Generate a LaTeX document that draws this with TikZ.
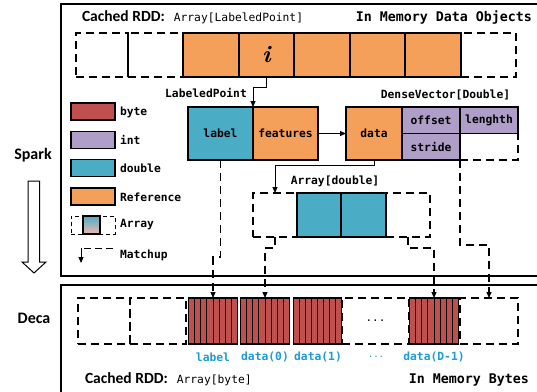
\documentclass[tikz,border=0pt]{standalone}
\usepackage{fontspec}
\setmonofont{DejaVu Sans Mono}
\newfontfamily\carl{Carlito}
\usetikzlibrary{arrows.meta,calc}
\definecolor{cOrange}{HTML}{F5A05A}
\definecolor{cTeal}{HTML}{4BACC6}
\definecolor{cRed}{HTML}{C0504D}
\definecolor{cPurple}{HTML}{AE9EC8}
\definecolor{cPink}{HTML}{F4B8B0}
\definecolor{cBlue}{HTML}{1F9BD5}
\begin{document}
\begin{tikzpicture}[x=1pt,y=-1pt,
  every node/.style={inner sep=0pt,outer sep=0pt},
  frame/.style={draw,line width=1.2pt},
  cell/.style={draw,line width=1.1pt},
  dbox/.style={draw,line width=1.1pt,dash pattern=on 8pt off 5pt},
  conn/.style={line width=1pt,-{Triangle[length=6pt,width=5pt]}},
  dconn/.style={line width=1.1pt,dash pattern=on 8pt off 5pt,-{Triangle[length=6pt,width=5pt]}},
  mono/.style={font=\ttfamily\bfseries\fontsize{11.3}{13}\selectfont},
  monot/.style={font=\ttfamily\bfseries\fontsize{13.3}{15}\selectfont},
  sans/.style={font=\carl\bfseries\fontsize{16}{18}\selectfont}]
\useasboundingbox (0,0) rectangle (537,391);
\clip (0,0) rectangle (537,391);
\fill[white] (0,0) rectangle (537,391);
% frames
\draw[frame] (61,4) rectangle (560,276);
\draw[frame] (61,285) rectangle (560,420);
% titles
\node[anchor=base west] (t1) at (82,21) {{\carl\bfseries\fontsize{15.5}{15}\selectfont Cached RDD:}\hspace{9pt}{\ttfamily\fontsize{11.3}{12}\selectfont Array[LabeledPoint]}};
\node[anchor=base east,monot] (t2) at (532,21) {In Memory Data Objects};
\node[anchor=base west] (t3) at (85,383) {{\carl\bfseries\fontsize{15.5}{15}\selectfont Cached RDD:}\hspace{9pt}{\ttfamily\fontsize{11.3}{12}\selectfont Array[byte]}};
\node[anchor=base east,monot] (t4) at (529,383) {In Memory Bytes};
% Spark / Deca
\node[sans] (spark) at (33,155) {Spark};
\node[sans] (deca) at (34,318) {Deca};
\draw[line width=1pt,fill=white] (28,181) -- (39.5,181) -- (39.5,262) -- (46,262) -- (34,273) -- (22,262) -- (28,262) -- cycle;
% top array
\node[dbox,minimum width=52pt,minimum height=44pt] (td1) at (102,55) {};
\node[dbox,minimum width=55pt,minimum height=44pt] (td2) at (155.5,55) {};
\node[dbox,minimum width=55pt,minimum height=44pt] (td3) at (488.5,55) {};
\node[cell,fill=cOrange,minimum width=56pt,minimum height=44pt] (to1) at (211,55) {};
\node[cell,fill=cOrange,minimum width=55pt,minimum height=44pt,font=\fontsize{24}{24}\selectfont\bfseries\itshape] (to2) at (266.5,55) {i};
\node[cell,fill=cOrange,minimum width=56pt,minimum height=44pt] (to3) at (322,55) {};
\node[cell,fill=cOrange,minimum width=55pt,minimum height=44pt] (to4) at (377.5,55) {};
\node[cell,fill=cOrange,minimum width=56pt,minimum height=44pt] (to5) at (433,55) {};
% LabeledPoint
\node[mono] (lpt) at (206,93) {LabeledPoint};
\node[cell,fill=cTeal,minimum width=65pt,minimum height=53pt,mono] (lab) at (220.5,133.5) {label};
\node[cell,fill=cOrange,minimum width=65pt,minimum height=53pt,mono] (feat) at (285.5,133.5) {features};
\draw[conn] (to2.south) -- ++(0,10) -| (lab.north east);
% DenseVector
\node[mono] (dvt) at (445.5,95) {DenseVector[Double]};
\node[dbox,minimum width=58pt,minimum height=26.5pt] (vd) at (489,146.75) {};
\node[cell,fill=cOrange,minimum width=56pt,minimum height=53pt,mono] (dat) at (374,133.5) {data};
\node[cell,fill=cPurple,minimum width=58pt,minimum height=26.5pt,mono] (off) at (431,120.25) {offset};
\node[cell,fill=cPurple,minimum width=58pt,minimum height=26.5pt,mono] (str) at (431,146.75) {stride};
\node[cell,fill=cPurple,minimum width=58pt,minimum height=26.5pt,mono] (len) at (489,120.25) {lenghth};
\draw[conn] (feat.east) -- (dat.west);
% Array[double]
\node[mono] (adt) at (335,181) {Array[double]};
\node[dbox,minimum width=44pt,minimum height=44pt] (ad1) at (275,215) {};
\node[dbox,minimum width=44pt,minimum height=44pt] (ad2) at (408,215) {};
\node[cell,fill=cTeal,minimum width=44pt,minimum height=44pt] (at1) at (319,215) {};
\node[cell,fill=cTeal,minimum width=45pt,minimum height=44pt] (at2) at (363.5,215) {};
\draw[conn] (dat.south) -- ++(0,5) -| (ad1.north);
% bottom array
\node[dbox,minimum width=52pt,minimum height=46pt] (bx1) at (104,321) {};
\node[dbox,minimum width=56pt,minimum height=46pt] (bx2) at (158,321) {};
\node[dbox,minimum width=67pt,minimum height=46pt,font=\ttfamily\fontsize{11}{12}\selectfont] (bdots) at (375.5,321) {...};
\node[dbox,minimum width=58pt,minimum height=46pt] (bxE) at (489,321) {};
\node[cell,fill=cRed,minimum width=48.5pt,minimum height=46pt] (bL) at (213,321) {};
\node[cell,fill=cRed,minimum width=48.5pt,minimum height=46pt] (bD0) at (265,321) {};
\node[cell,fill=cRed,minimum width=48.5pt,minimum height=46pt] (bD1) at (317.5,321) {};
\node[cell,fill=cRed,minimum width=48.5pt,minimum height=46pt] (bDD) at (434,321) {};
\foreach \c in {bL,bD0,bD1,bDD}{
  \foreach \k in {1,...,7}{
    \draw[line width=0.9pt] ($(\c.north west)!\k/8!(\c.north east)$) -- ($(\c.south west)!\k/8!(\c.south east)$);
  }
}
\node[mono,text=cBlue] (lL) at (213,357) {label};
\node[mono,text=cBlue] (lD0) at (265,357) {data(0)};
\node[mono,text=cBlue] (lD1) at (318,357) {data(1)};
\node[mono,text=cBlue,font=\ttfamily\fontsize{9}{10}\selectfont] (lDots) at (376,357) {...};
\node[mono,text=cBlue] (lDD) at (434,357) {data(D-1)};
% matchups
\draw[dconn] (lab.south) -- ++(0,97) -| (bL.north);
\draw[dconn] (ad1.south) -- ++(0,11) -| (bD0.north);
\draw[dconn] (ad2.south) -- ++(0,11) -| (bDD.north);
\draw[dconn] (str.south east) -- ++(0,85) -| (bxE.north);
% legend
\node[cell,fill=cRed,minimum width=44pt,minimum height=17pt] (lgB) at (93,111.5) {};
\node[cell,fill=cPurple,minimum width=44pt,minimum height=17pt] (lgI) at (93,140) {};
\node[cell,fill=cTeal,minimum width=44pt,minimum height=17pt] (lgD) at (93,168) {};
\node[cell,fill=cOrange,minimum width=44pt,minimum height=17pt] (lgR) at (93,196.5) {};
\node[draw,line width=1pt,dash pattern=on 4pt off 3pt,minimum width=44pt,minimum height=18pt] (lgA) at (93,225) {};
\node[draw,line width=1.1pt,top color=cTeal,bottom color=cPink,minimum width=17pt,minimum height=18pt] (lgAc) at (91.5,225) {};
\coordinate (m1) at (113,248);
\coordinate (m2) at (81,248);
\draw[line width=1pt,dash pattern=on 7pt off 4pt] (m1) -- (m2);
\draw[conn] (m2) -- ++(0,15);
\node[mono,anchor=west] (tB) at (120,112) {byte};
\node[mono,anchor=west] (tI) at (120,140) {int};
\node[mono,anchor=west] (tD) at (120,168) {double};
\node[mono,anchor=west] (tR) at (120,197) {Reference};
\node[mono,anchor=west] (tA) at (120,225) {Array};
\node[mono,anchor=west] (tM) at (120,255) {Matchup};
\end{tikzpicture}
\end{document}
